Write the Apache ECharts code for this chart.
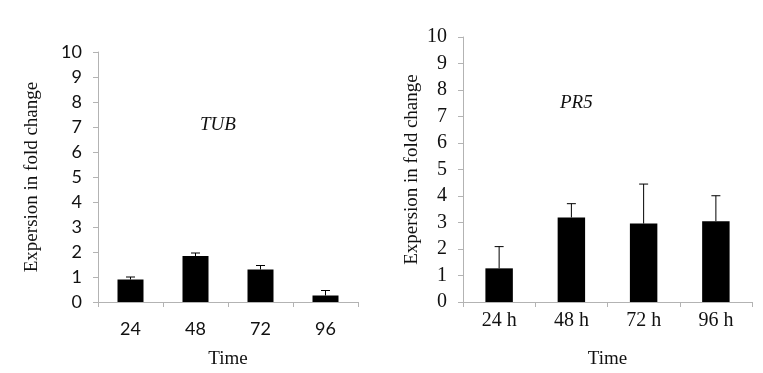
<!DOCTYPE html>
<html>
<head>
<meta charset="utf-8">
<script src="https://cdn.jsdelivr.net/npm/echarts@6/dist/echarts.min.js"></script>
<style>
  html, body { margin: 0; padding: 0; background: #fff; }
  #chart { width: 763px; height: 373px; }
</style>
</head>
<body>
<div id="chart"></div>
<script>
const tubCats = ['24', '48', '72', '96']
const tubMean = [0.9, 1.84, 1.3, 0.26]
const tubSd = [0.1, 0.12, 0.16, 0.2]

const pr5Cats = ['24 h', '48 h', '72 h', '96 h']
const pr5Mean = [1.27, 3.19, 2.96, 3.05]
const pr5Sd = [0.82, 0.52, 1.49, 0.96]

const yTicks = [0, 10, 1] // min, max, interval

const serif = '"Liberation Serif", "DejaVu Serif", serif'
const sans = 'Lato, "Open Sans", sans-serif'
const axisGray = '#b3b3b3'

// error bar: line from mean up to mean+sd with a small cap
const errItem = (params, api) => {
  const i = api.value(0)
  const top = api.coord([i, api.value(1) + api.value(2)])
  const base = api.coord([i, api.value(1)])
  const cap = 4.5
  const style = { stroke: '#000', lineWidth: 1 }
  return {
    type: 'group',
    children: [
      { type: 'line', shape: { x1: base[0], y1: base[1], x2: top[0], y2: top[1] }, style },
      { type: 'line', shape: { x1: top[0] - cap, y1: top[1], x2: top[0] + cap, y2: top[1] }, style }
    ]
  }
}

const xAxisFor = (cats, idx, labelFont, labelSize, labelMargin) => ({
  type: 'category',
  gridIndex: idx,
  data: cats,
  name: 'Time',
  nameLocation: 'middle',
  nameGap: 48,
  nameTextStyle: { fontFamily: serif, fontSize: 19, color: '#111' },
  axisLine: { lineStyle: { color: axisGray, width: 1 } },
  axisTick: { show: true, length: 5, lineStyle: { color: axisGray } },
  axisLabel: { fontFamily: labelFont, fontSize: labelSize, color: '#111', margin: labelMargin }
})

const yAxisFor = (idx, labelFont, labelSize, nameGap) => ({
  type: 'value',
  gridIndex: idx,
  min: yTicks[0],
  max: yTicks[1],
  interval: yTicks[2],
  name: 'Expersion in fold change',
  nameLocation: 'middle',
  nameGap: nameGap,
  nameTextStyle: { fontFamily: serif, fontSize: 19, color: '#111' },
  axisLine: { show: true, lineStyle: { color: axisGray, width: 1 } },
  axisTick: { show: true, length: 5, lineStyle: { color: axisGray } },
  axisLabel: { fontFamily: labelFont, fontSize: labelSize, color: '#111', margin: 16 },
  splitLine: { show: false }
})

const chart = echarts.init(document.getElementById('chart'))
chart.setOption({
  animation: false,
  backgroundColor: '#fff',
  title: [
    { text: 'TUB', left: 195, top: 110,
      textStyle: { fontFamily: serif, fontStyle: 'italic', fontWeight: 'normal', fontSize: 19, color: '#111' } },
    { text: 'PR5', left: 555, top: 88,
      textStyle: { fontFamily: serif, fontStyle: 'italic', fontWeight: 'normal', fontSize: 19, color: '#111' } }
  ],
  grid: [
    { left: 98, right: 405, top: 52, bottom: 71, outerBoundsMode: 'none' },
    { left: 463, right: 11, top: 37, bottom: 71, outerBoundsMode: 'none' }
  ],
  xAxis: [
    xAxisFor(tubCats, 0, sans, 18, 18),
    xAxisFor(pr5Cats, 1, serif, 20, 9)
  ],
  yAxis: [
    yAxisFor(0, sans, 18, 56),
    yAxisFor(1, serif, 20, 41)
  ],
  series: [
    { type: 'bar', xAxisIndex: 0, yAxisIndex: 0, data: tubMean, barWidth: '40%',
      itemStyle: { color: '#000' } },
    { type: 'custom', xAxisIndex: 0, yAxisIndex: 0, renderItem: errItem,
      data: tubCats.map((c, i) => [i, tubMean[i], tubSd[i]]), z: 3 },
    { type: 'bar', xAxisIndex: 1, yAxisIndex: 1, data: pr5Mean, barWidth: '38%',
      itemStyle: { color: '#000' } },
    { type: 'custom', xAxisIndex: 1, yAxisIndex: 1, renderItem: errItem,
      data: pr5Cats.map((c, i) => [i, pr5Mean[i], pr5Sd[i]]), z: 3 }
  ]
})
</script>
</body>
</html>
